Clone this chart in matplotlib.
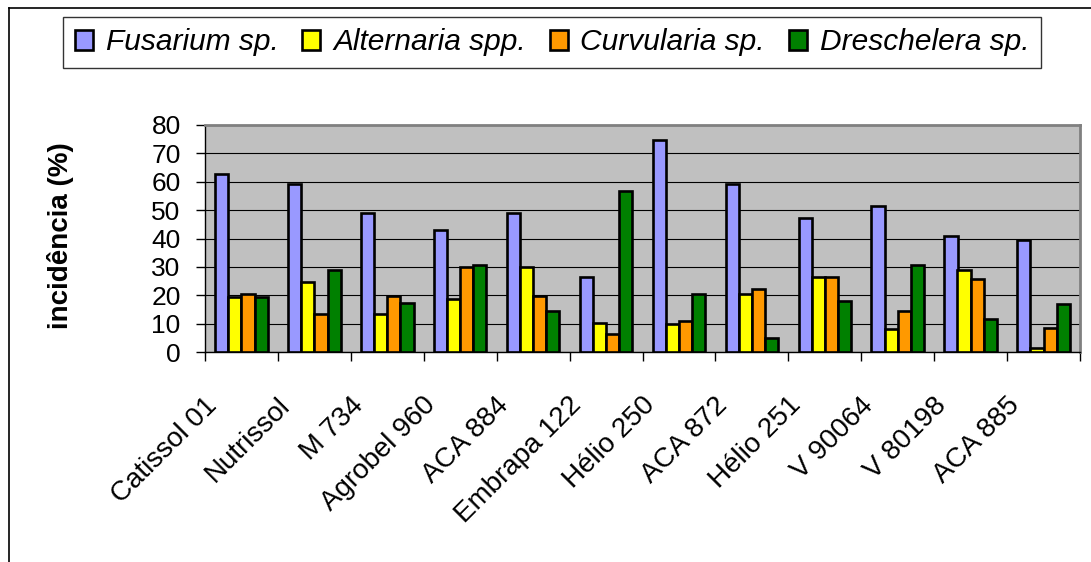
import numpy as np
import matplotlib
matplotlib.use("Agg")
import matplotlib.pyplot as plt
import matplotlib.transforms as mtransforms
from matplotlib.lines import Line2D

plt.rcParams['font.family'] = ['Liberation Sans', 'DejaVu Sans']

cultivares = ["Catissol 01", "Nutrissol", "M 734", "Agrobel 960", "ACA 884",
              "Embrapa 122", "Hélio 250", "ACA 872", "Hélio 251", "V 90064",
              "V 80198", "ACA 885"]
fusarium = [62.6, 59.3, 48.9, 42.9, 48.9, 26.4, 74.6, 59.2, 47.1, 51.4, 41.0, 39.4]
alternaria = [19.5, 24.8, 13.5, 18.7, 29.8, 10.1, 9.9, 20.4, 26.4, 8.2, 29.0, 1.3]
curvularia = [20.6, 13.5, 19.6, 29.8, 19.6, 6.5, 11.0, 22.1, 26.4, 14.5, 25.6, 8.3]
dreschelera = [19.5, 29.0, 17.2, 30.8, 14.5, 56.8, 20.6, 4.9, 17.9, 30.8, 11.8, 17.0]

series = [fusarium, alternaria, curvularia, dreschelera]
nomes = ["Fusarium sp.", "Alternaria spp.", "Curvularia sp.", "Dreschelera sp."]
cores = ["#9999FF", "#FFFF00", "#FF9900", "#008000"]

W, H = 1091, 562
fig = plt.figure(figsize=(W / 100, H / 100), dpi=100)
ax = fig.add_axes([205 / W, 1 - 352 / H, 875 / W, 227 / H])
ax.set_facecolor("#C0C0C0")

x = np.arange(len(cultivares)) + 0.5
bw = 0.18
handles = []
for k, (vals, cor, nome) in enumerate(zip(series, cores, nomes)):
    b = ax.bar(x + (k - 1.5) * bw, vals, bw, color=cor, edgecolor="black",
               linewidth=1.9, label=nome, zorder=3)
    handles.append(b)

ax.set_xlim(0, len(cultivares))
ax.set_ylim(0, 80)
ax.set_yticks(np.arange(0, 81, 10))
ax.yaxis.grid(True, color="black", linewidth=0.8, zorder=1)
ax.set_axisbelow(True)
ax.tick_params(axis="y", direction="out", length=6.5, width=1, labelsize=19, pad=11)

ax.set_xticks(x)
ax.set_xticks(np.arange(0, len(cultivares) + 1), minor=True)
ax.tick_params(axis="x", which="major", length=0, pad=29)
ax.tick_params(axis="x", which="minor", direction="out", length=6.5, width=1)
ax.set_xticklabels(cultivares, rotation=45, ha="right", va="top", fontsize=20)
offset = mtransforms.ScaledTranslation(-0.19, 0, fig.dpi_scale_trans)
for lab in ax.get_xticklabels():
    lab.set_transform(lab.get_transform() + offset)

for s in ["top", "right"]:
    ax.spines[s].set_color("#808080")
    ax.spines[s].set_linewidth(2)
for s in ["left", "bottom"]:
    ax.spines[s].set_color("black")
    ax.spines[s].set_linewidth(1)

fig.text(61 / W, 1 - 236 / H, "incidência (%)", rotation=90, ha="center",
         va="center", fontsize=20, fontweight="bold")

leg = fig.legend(handles=handles, loc="center",
                 bbox_to_anchor=(552 / W, 1 - 42.5 / H), ncol=4,
                 prop={"style": "italic", "size": 21.5}, frameon=True,
                 fancybox=False, handlelength=0.6, handleheight=0.65,
                 handletextpad=0.43, columnspacing=0.8, borderpad=0.4,
                 borderaxespad=0)
leg.get_frame().set_edgecolor("black")
leg.get_frame().set_linewidth(1)

# moldura externa do gráfico
fig.add_artist(Line2D([9 / W, 9 / W], [0, 1 - 8 / H], color="black", lw=1.2))
fig.add_artist(Line2D([9 / W, 1], [1 - 8 / H, 1 - 8 / H], color="black", lw=1.2))

fig.savefig("out.png", dpi=100)
